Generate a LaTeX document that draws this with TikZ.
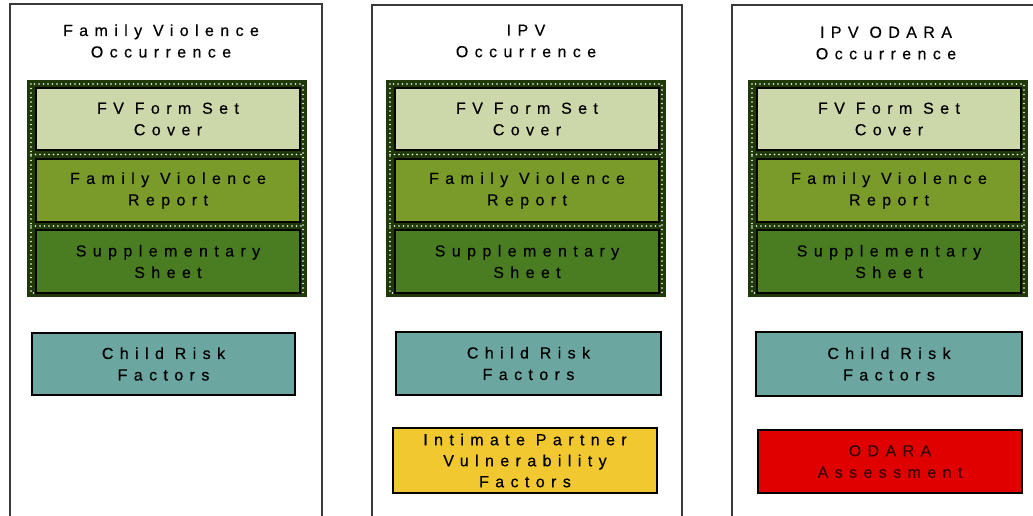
\documentclass[tikz,border=0pt]{standalone}
\usepackage{fontspec}
\newfontfamily\spc[LetterSpace=40,FakeBold=0.4]{Liberation Sans}
\definecolor{outline}{HTML}{3A3A3A}
\definecolor{framegreen}{HTML}{1F3A08}
\definecolor{coverfill}{HTML}{CCD8AA}
\definecolor{reportfill}{HTML}{7A9A2A}
\definecolor{suppfill}{HTML}{4A7D22}
\definecolor{childfill}{HTML}{6CA6A0}
\definecolor{ipvfill}{HTML}{F2C830}
\definecolor{odarafill}{HTML}{E00000}
\definecolor{odaratext}{HTML}{3A0000}
\tikzset{
  txt/.style={font={\spc\fontsize{16}{21.5}\selectfont}, align=center, text=black},
  colbox/.style={draw=outline, line width=2pt, anchor=north west, outer sep=0pt, inner sep=0pt},
  framebox/.style={fill=framegreen, anchor=north west, outer sep=0pt, inner sep=0pt,
                   minimum width=280pt, minimum height=217pt},
  dots/.style={white, line width=1.6pt, line cap=round, dash pattern=on 0pt off 4.5pt},
  formbox/.style={txt, draw=black, line width=1.5pt, anchor=north west, outer sep=0pt, inner sep=0pt,
                  minimum width=264pt, minimum height=62pt},
  title/.style={txt}
}
\begin{document}
\begin{tikzpicture}[x=1pt,y=-1pt]
\clip (0,0) rectangle (1033,515);
\fill[white] (0,0) rectangle (1033,515);

% column containers
\node[colbox, minimum width=312pt, minimum height=560pt] (c1) at (10,4) {};
\node[colbox, minimum width=310pt, minimum height=560pt] (c2) at (372,5) {};
\node[colbox, minimum width=340pt, minimum height=560pt] (c3) at (732,5) {};

% titles
\node[title] (t1) at (161,41) {Family Violence\\Occurrence};
\node[title] (t2) at (526,41) {IPV\\Occurrence};
\node[title] (t3) at (886,43) {IPV ODARA\\Occurrence};

% dotted green frames
\node[framebox] (f1) at (27,80) {};
\node[framebox] (f2) at (386,80) {};
\node[framebox] (f3) at (748,80) {};
\foreach \dx in {0,359,721}{
  \draw[dots] (31+\dx,84) rectangle (303+\dx,293);
  \draw[dots] (31+\dx,154.5) -- (303+\dx,154.5);
  \draw[dots] (31+\dx,226) -- (303+\dx,226);
}

% form boxes column 1
\node[formbox, fill=coverfill] (cov1) at (36,88) {FV Form Set\\Cover};
\node[formbox, fill=reportfill, minimum height=63pt] (rep1) at (36,159) {Family Violence\\Report};
\node[formbox, fill=suppfill, minimum height=63pt] (sup1) at (36,230) {Supplementary\\Sheet};
% column 2
\node[formbox, fill=coverfill] (cov2) at (395,88) {FV Form Set\\Cover};
\node[formbox, fill=reportfill, minimum height=63pt] (rep2) at (395,159) {Family Violence\\Report};
\node[formbox, fill=suppfill, minimum height=63pt] (sup2) at (395,230) {Supplementary\\Sheet};
% column 3
\node[formbox, fill=coverfill] (cov3) at (757,88) {FV Form Set\\Cover};
\node[formbox, fill=reportfill, minimum height=63pt] (rep3) at (757,159) {Family Violence\\Report};
\node[formbox, fill=suppfill, minimum height=63pt] (sup3) at (757,230) {Supplementary\\Sheet};

% child risk factors
\node[formbox, fill=childfill, minimum width=263pt] (crf1) at (32,333) {Child Risk\\Factors};
\node[formbox, fill=childfill, minimum width=265pt, minimum height=63pt] (crf2) at (396,332) {Child Risk\\Factors};
\node[formbox, fill=childfill, minimum width=266pt, minimum height=64pt] (crf3) at (756,332) {Child Risk\\Factors};

% extra assessments
\node[formbox, fill=ipvfill, minimum height=65pt, font={\spc\fontsize{16}{21}\selectfont}] (ipv) at (393,428) {Intimate Partner\\Vulnerability\\Factors};
\node[formbox, fill=odarafill, minimum height=63pt, text=odaratext] (odara) at (758,430) {ODARA\\Assessment};
\end{tikzpicture}
\end{document}
